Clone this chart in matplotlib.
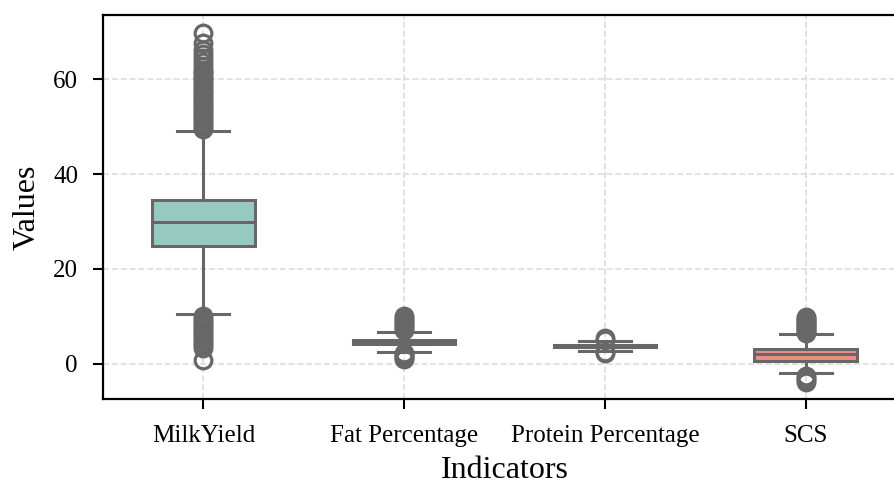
import colorsys
import numpy as np
import matplotlib
matplotlib.use('Agg')
import matplotlib.pyplot as plt
from matplotlib.colors import to_rgb

plt.rcParams['font.family'] = ['Liberation Serif', 'DejaVu Serif']

# values
indicators = ['MilkYield', 'Fat Percentage', 'Protein Percentage', 'SCS']
q1 = [24.8, 4.1, 3.6, 0.7]
med = [29.8, 4.6, 3.85, 2.0]
q3 = [34.5, 5.0, 4.05, 3.1]
whis_lo = [10.5, 2.6, 2.8, -2.0]
whis_hi = [49.0, 6.8, 4.8, 6.3]
fliers = [
    [49.5, 50.0, 50.5, 51.0, 51.5, 52.0, 52.5, 53.0, 53.5, 54.0, 54.5, 55.0,
     55.5, 56.0, 56.5, 57.0, 57.5, 58.0, 58.5, 59.0, 59.5, 60.0, 60.5, 61.0,
     61.5, 62.0, 62.8, 63.6, 64.5, 65.3, 66.2, 67.5, 69.8,
     10.0, 9.5, 9.0, 8.5, 8.0, 7.5, 7.0, 6.5, 6.0, 5.5, 5.0, 4.5, 4.0, 3.3, 0.8],
    [7.2, 7.6, 8.0, 8.4, 8.8, 9.2, 9.6, 10.0,
     2.2, 1.9, 1.6, 1.3, 1.0],
    [5.1, 5.5, 2.4, 2.2],
    [6.6, 6.9, 7.2, 7.5, 7.8, 8.1, 8.4, 8.7, 9.0, 9.3, 9.6, 9.9,
     -2.6, -3.0, -3.4, -3.8],
]
box_colors = ['#8dd3c7', '#ffffb3', '#bebada', '#fb8072']


def desat(c, prop=0.75):
    # same muting seaborn applies to box fills
    h, l, s = colorsys.rgb_to_hls(*to_rgb(c))
    return colorsys.hls_to_rgb(h, l, s * prop)


line_color = '#676767'
lw = 2.2

fig = plt.figure(figsize=(8.94, 4.84), dpi=100)
ax = fig.add_axes([103 / 894, 85 / 484, 803 / 894, 384 / 484])

stats = []
for i, name in enumerate(indicators):
    stats.append({
        'label': name, 'q1': q1[i], 'med': med[i], 'q3': q3[i],
        'whislo': whis_lo[i], 'whishi': whis_hi[i], 'fliers': fliers[i],
    })

bp = ax.bxp(stats, positions=range(len(indicators)), widths=0.51,
            capwidths=0.26, patch_artist=True, showfliers=True,
            boxprops=dict(linewidth=lw, edgecolor=line_color),
            medianprops=dict(color=line_color, linewidth=lw),
            whiskerprops=dict(color=line_color, linewidth=lw),
            capprops=dict(color=line_color, linewidth=lw),
            flierprops=dict(marker='o', markersize=12, markerfacecolor='none',
                            markeredgecolor=line_color, markeredgewidth=2.3))
for patch, c in zip(bp['boxes'], box_colors):
    patch.set_facecolor(desat(c))

ax.set_xlim(-0.5, 3.5)
ax.set_ylim(-7.4, 73.5)
ax.set_yticks([0, 20, 40, 60])
ax.set_xticks(range(len(indicators)))
ax.set_xticklabels(indicators)
ax.tick_params(axis='both', labelsize=18, width=1.5, length=7, color='black')
ax.tick_params(axis='x', pad=12)
ax.tick_params(axis='y', pad=11)
ax.set_xlabel('Indicators', fontsize=23, labelpad=6)
ax.set_ylabel('Values', fontsize=23, labelpad=8)
ax.grid(True, linestyle='--', color='#dddddd', linewidth=1.2)
ax.set_axisbelow(True)
for s in ax.spines.values():
    s.set_linewidth(1.6)
    s.set_color('black')

fig.savefig('out.png', dpi=100)
